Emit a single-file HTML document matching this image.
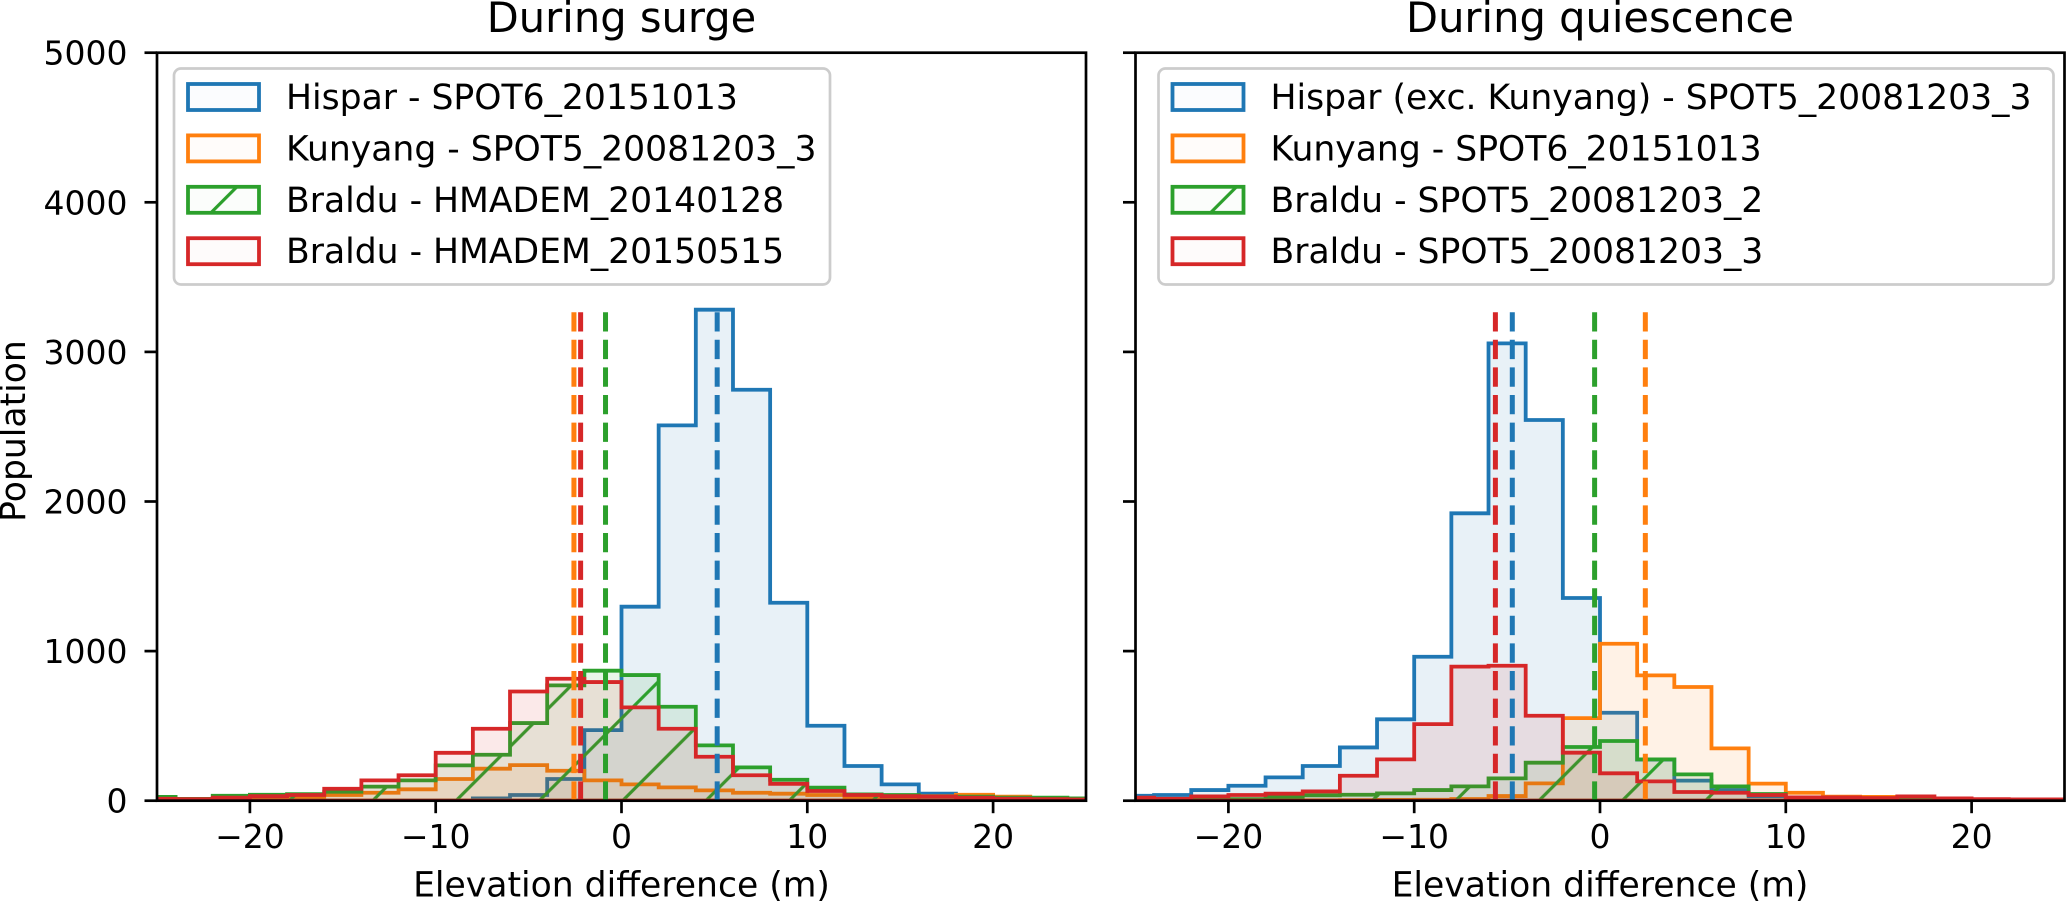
<!DOCTYPE html>
<html lang="en">
<head>
<meta charset="utf-8">
<title>Elevation difference histograms</title>
<style>
html,body{margin:0;padding:0;background:#fff;width:2067px;height:903px;overflow:hidden}
svg{display:block}
text{font-family:"DejaVu Sans","Liberation Sans",sans-serif;fill:#000}
</style>
</head>
<body>
<svg id="chart" xmlns="http://www.w3.org/2000/svg" width="2067" height="903" viewBox="0 0 2067 903">
<defs>
<pattern id="hatch" patternUnits="userSpaceOnUse" width="83.3" height="83.3">
<path d="M-2 9.2L9.2 -2M5.2 85.3L85.3 5.2" stroke="#2ca02c" stroke-width="3.2" fill="none"/>
</pattern>
<clipPath id="clip-left"><rect x="157" y="52.7" width="929" height="748"/></clipPath>
<clipPath id="clip-right"><rect x="1135.5" y="52.7" width="929" height="748"/></clipPath>
</defs>
</svg>
<script>
// Shared axis data
const binEdges = [-26,-24,-22,-20,-18,-16,-14,-12,-10,-8,-6,-4,-2,0,2,4,6,8,10,12,14,16,18,20,22,24,26];
const xTicks = [-20,-10,0,10,20];
const yTicks = [0,1000,2000,3000,4000,5000];
const meanLineTop = 3282;

// During surge
const surgeBlue = [2,2,2,2,2,2,2,2,2,15,38,145,472,1297,2509,3282,2747,1323,501,232,109,47,12,4,2,1];
const surgeOrange = [4,6,8,15,25,38,53,76,145,214,238,200,136,109,89,69,53,47,38,20,25,30,40,27,15,15];
const surgeGreen = [25,12,33,40,44,60,94,136,236,307,519,771,869,840,628,370,223,140,87,42,38,29,27,20,20,15];
const surgeRed = [13,10,20,30,38,80,136,170,320,481,730,815,793,624,481,294,170,113,65,38,30,28,20,14,10,8];
const surgeMeans = [5.15,-2.56,-0.86,-2.2];
const surgeLabels = ["Hispar - SPOT6_20151013","Kunyang - SPOT5_20081203_3","Braldu - HMADEM_20140128","Braldu - HMADEM_20150515"];

// During quiescence
const quietBlue = [33,38,71,100,156,232,356,544,962,1921,3057,2545,1355,588,275,134,71,30,9,3,3,2,2,1,1,1];
const quietOrange = [1,1,1,2,2,3,4,5,6,11,31,116,552,1049,838,760,350,114,53,27,25,15,13,8,5,3];
const quietGreen = [2,3,6,10,22,36,40,49,71,96,149,254,359,399,276,176,96,45,10,8,6,5,4,3,3,2];
const quietRed = [20,13,29,38,47,62,167,276,512,896,902,568,321,183,129,58,53,38,22,22,18,29,15,10,9,9];
const quietMeans = [-4.72,2.44,-0.29,-5.63];
const quietLabels = ["Hispar (exc. Kunyang) - SPOT5_20081203_3","Kunyang - SPOT6_20151013","Braldu - SPOT5_20081203_2","Braldu - SPOT5_20081203_3"];

const colors = ["#1f77b4","#ff7f0e","#2ca02c","#d62728"];
const seriesKeys = ["blue","orange","green","red"];
const NS = "http://www.w3.org/2000/svg";
const svg = document.getElementById("chart");

function mk(tag, attrs, parent){
  const el = document.createElementNS(NS, tag);
  for (const k in attrs) el.setAttribute(k, attrs[k]);
  (parent || svg).appendChild(el);
  return el;
}
const yScale = v => 800.7 - v * 0.1496;

function drawPanel(opt){
  const xScale = v => opt.zeroX + v * 18.58;
  const left = opt.zeroX - 25 * 18.58, right = opt.zeroX + 25 * 18.58;
  const g = mk("g", {});
  
  
  const plot = mk("g", {"clip-path": "url(#" + opt.clip + ")"}, g);

  opt.series.forEach((vals, i) => {
    let d = "M" + xScale(binEdges[0]) + " " + yScale(0);
    vals.forEach((v, b) => {
      d += "L" + xScale(binEdges[b]).toFixed(2) + " " + yScale(v).toFixed(2);
      d += "L" + xScale(binEdges[b + 1]).toFixed(2) + " " + yScale(v).toFixed(2);
    });
    d += "L" + xScale(binEdges[binEdges.length - 1]) + " " + yScale(0);
    const fill = mk("path", {d: d + "Z", fill: colors[i], "fill-opacity": 0.1, stroke: "none"}, plot);
    
    
    if (i === 2) {
      const h = mk("path", {d: d + "Z", fill: "url(#hatch)", stroke: "none"}, plot);
      
      
    }
    const line = mk("path", {d: d + "Z", fill: "none", stroke: colors[i], "stroke-width": 3.8, "stroke-linejoin": "miter"}, plot);
    
    
  });

  opt.means.forEach((m, i) => {
    const l = mk("line", {x1: xScale(m), x2: xScale(m), y1: yScale(0), y2: yScale(meanLineTop),
      stroke: colors[i], "stroke-width": 5, "stroke-dasharray": "19.3 8.3"}, plot);
    
    
  });

  // Frame
  const frame = mk("rect", {x: left, y: yScale(5000), width: right - left, height: yScale(0) - yScale(5000),
    fill: "none", stroke: "#000", "stroke-width": 2.7}, g);
  
  

  // Ticks
  yTicks.forEach(t => {
    const tk = mk("line", {x1: left - 12.5, x2: left, y1: yScale(t), y2: yScale(t), stroke: "#000", "stroke-width": 2.7}, g);
    
    
    if (opt.showY) {
      const lb = mk("text", {x: left - 29.5, y: yScale(t) + 12, "text-anchor": "end", "font-size": 33}, g);
      lb.textContent = String(t);
      
      
    }
  });
  xTicks.forEach(t => {
    const tk = mk("line", {x1: xScale(t), x2: xScale(t), y1: yScale(0), y2: yScale(0) + 12.5, stroke: "#000", "stroke-width": 2.7}, g);
    
    
    const lb = mk("text", {x: xScale(t), y: 848, "text-anchor": "middle", "font-size": 33}, g);
    lb.textContent = t < 0 ? "\u2212" + Math.abs(t) : String(t);
    
    
  });

  const xt = mk("text", {x: opt.zeroX, y: 896.5, "text-anchor": "middle", "font-size": 34.6}, g);
  xt.textContent = "Elevation difference (m)";
  
  

  const title = mk("text", {x: opt.zeroX, y: 32, "text-anchor": "middle", "font-size": 41.6}, g);
  title.textContent = opt.title;
  
  

  // Legend
  const lg = mk("g", {}, g);
  
  
  const box = mk("rect", {x: opt.legendX, y: 68.5, width: opt.legendW, height: 216, rx: 7, ry: 7,
    fill: "#fff", "fill-opacity": 0.8, stroke: "#cccccc", "stroke-width": 2.7}, lg);
  
  
  opt.labels.forEach((txt, i) => {
    const cy = 97 + i * 51.4;
    const hx = opt.legendX + 14;
    if (i === 2) {
      const hp = mk("rect", {x: hx, y: cy - 13, width: 71, height: 26, fill: "url(#hatch)", stroke: "none"}, lg);
      
      
    }
    const sw = mk("rect", {x: hx, y: cy - 13, width: 71, height: 26, fill: colors[i], "fill-opacity": 0.02, stroke: colors[i], "stroke-width": 3.8}, lg);
    
    
    const tx = mk("text", {x: opt.legendX + 112, y: cy + 12, "font-size": 34.6}, lg);
    tx.textContent = txt;
    
    
  });
}

drawPanel({name: "surge", title: "During surge", zeroX: 621.5, clip: "clip-left", showY: true,
  series: [surgeBlue, surgeOrange, surgeGreen, surgeRed], means: surgeMeans, labels: surgeLabels,
  legendX: 174, legendW: 656});
drawPanel({name: "quiescence", title: "During quiescence", zeroX: 1600, clip: "clip-right", showY: false,
  series: [quietBlue, quietOrange, quietGreen, quietRed], means: quietMeans, labels: quietLabels,
  legendX: 1158.5, legendW: 895});

const yt = mk("text", {x: 0, y: 0, "text-anchor": "middle", "font-size": 34.6, transform: "translate(25 431) rotate(-90)"});
yt.textContent = "Population";


</script>
</body>
</html>
